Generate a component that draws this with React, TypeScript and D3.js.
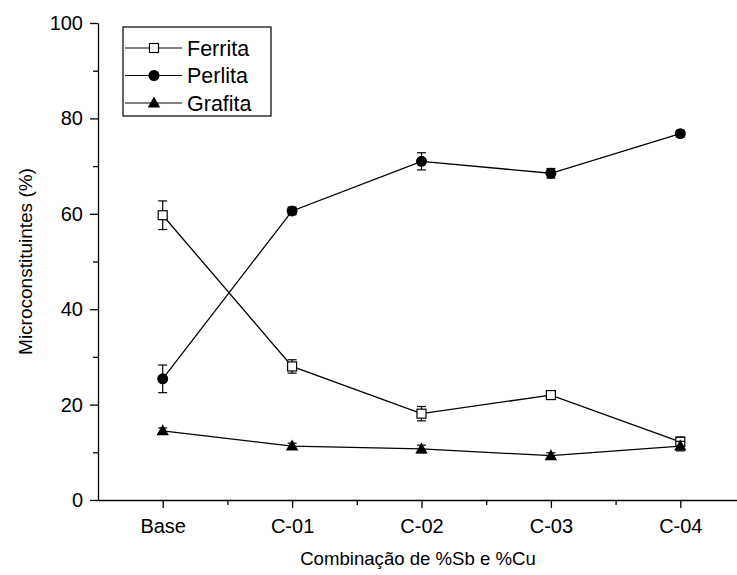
import React, { useEffect, useRef } from 'react'
import * as d3 from 'd3'

const categories = ['Base', 'C-01', 'C-02', 'C-03', 'C-04']
const ferrita = [59.7, 28.0, 18.1, 22.0, 12.2]
const ferritaErr = [3.0, 1.4, 1.5, 0.6, 1.0]
const perlita = [25.4, 60.6, 71.0, 68.5, 76.8]
const perlitaErr = [2.9, 0.8, 1.8, 1.0, 0.7]
const grafita = [14.5, 11.3, 10.7, 9.3, 11.3]
const grafitaErr = [0.6, 0.6, 0.8, 0.6, 1.0]
const yTicks = [0, 20, 40, 60, 80, 100]

export default function App() {
  const ref = useRef<SVGSVGElement>(null)

  useEffect(() => {
    const svg = d3.select(ref.current)
    svg.selectAll('*').remove()

    const left = 98, top = 23, bottom = 500, right = 745
    const font = 'Liberation Sans, Arial, sans-serif'

    const x = d3.scaleLinear().domain([-0.5, 4.5]).range([left, right])
    const y = d3.scaleLinear().domain([0, 100]).range([bottom, top])

    const g = svg.append('g')

    // y axis
    const yAxis = g.append('g').attr('transform', `translate(${left},0)`)
      .call(d3.axisLeft(y).tickValues(yTicks).tickSize(8).tickPadding(7).tickSizeOuter(0))
    yAxis.selectAll('text').attr('font-size', 20).attr('font-family', font).attr('fill', '#000')
    yAxis.select('.domain').attr('stroke-width', 1.3)
    yAxis.selectAll('.tick line').attr('stroke-width', 1.3)
    g.append('g').attr('transform', `translate(${left},0)`)
      .call(d3.axisLeft(y).tickValues(d3.range(10, 100, 20)).tickSize(5).tickFormat(() => '').tickSizeOuter(0))
      .call(a => a.select('.domain').remove())
      .selectAll('.tick line').attr('stroke-width', 1.3)

    // x axis
    const xAxis = g.append('g').attr('transform', `translate(0,${bottom})`)
      .call(d3.axisBottom(x).tickValues(d3.range(5)).tickSize(8).tickPadding(11).tickSizeOuter(0)
        .tickFormat(i => categories[i as number]))
    xAxis.selectAll('text').attr('font-size', 20).attr('font-family', font).attr('fill', '#000')
    xAxis.select('.domain').attr('stroke-width', 1.3)
    xAxis.selectAll('.tick line').attr('stroke-width', 1.3)
    g.append('g').attr('transform', `translate(0,${bottom})`)
      .call(d3.axisBottom(x).tickValues([0.5, 1.5, 2.5, 3.5]).tickSize(5).tickFormat(() => '').tickSizeOuter(0))
      .call(a => a.select('.domain').remove())
      .selectAll('.tick line').attr('stroke-width', 1.3)

    // axis titles
    g.append('text').attr('x', 418).attr('y', 565).attr('text-anchor', 'middle')
      .attr('font-size', 18.6).attr('font-family', font).text('Combinação de %Sb e %Cu')
    g.append('text').attr('transform', `translate(32,${(top + bottom) / 2}) rotate(-90)`)
      .attr('text-anchor', 'middle').attr('font-size', 19).attr('font-family', font)
      .text('Microconstituintes (%)')

    const series = [
      { name: 'Ferrita', values: ferrita, err: ferritaErr, shape: 'square' },
      { name: 'Perlita', values: perlita, err: perlitaErr, shape: 'circle' },
      { name: 'Grafita', values: grafita, err: grafitaErr, shape: 'triangle' },
    ]

    const marker = (sel: any, shape: string, cx: number, cy: number) => {
      if (shape === 'square') {
        sel.append('rect').attr('x', cx - 4.5).attr('y', cy - 4.5).attr('width', 9).attr('height', 9)
          .attr('fill', '#fff').attr('stroke', '#000').attr('stroke-width', 1.2)
      } else if (shape === 'circle') {
        sel.append('circle').attr('cx', cx).attr('cy', cy).attr('r', 5.5).attr('fill', '#000')
      } else {
        sel.append('path').attr('transform', `translate(${cx},${cy})`)
          .attr('d', 'M0,-6.5L6.2,4.5L-6.2,4.5Z').attr('fill', '#000')
      }
    }

    const line = d3.line<number>().x((_, i) => x(i)).y(d => y(d))

    series.forEach(s => {
      const sg = g.append('g')
      sg.append('path').datum(s.values).attr('d', line).attr('fill', 'none')
        .attr('stroke', '#000').attr('stroke-width', 1.3)
      s.values.forEach((v, i) => {
        const e = s.err[i]
        const cx = x(i)
        sg.append('line').attr('x1', cx).attr('x2', cx).attr('y1', y(v - e)).attr('y2', y(v + e))
          .attr('stroke', '#000').attr('stroke-width', 1.2)
        ;[v - e, v + e].forEach(ev => {
          sg.append('line').attr('x1', cx - 4.5).attr('x2', cx + 4.5).attr('y1', y(ev)).attr('y2', y(ev))
            .attr('stroke', '#000').attr('stroke-width', 1.2)
        })
        marker(sg, s.shape, cx, y(v))
      })
    })

    // legend
    const lg = g.append('g')
    lg.append('rect').attr('x', 123).attr('y', 27).attr('width', 148).attr('height', 89)
      .attr('fill', '#fff').attr('stroke', '#000').attr('stroke-width', 1.2)
    series.forEach((s, i) => {
      const ly = 48 + i * 27.5
      lg.append('line').attr('x1', 125).attr('x2', 182).attr('y1', ly).attr('y2', ly)
        .attr('stroke', '#000').attr('stroke-width', 1.2)
      marker(lg, s.shape, 154, ly)
      lg.append('text').attr('x', 187).attr('y', ly + 7.5).attr('font-size', 21.5)
        .attr('font-family', font).text(s.name)
    })
  }, [])

  return <svg ref={ref} width={737} height={575} style={{ position: 'absolute', left: 0, top: 0 }}></svg>
}
